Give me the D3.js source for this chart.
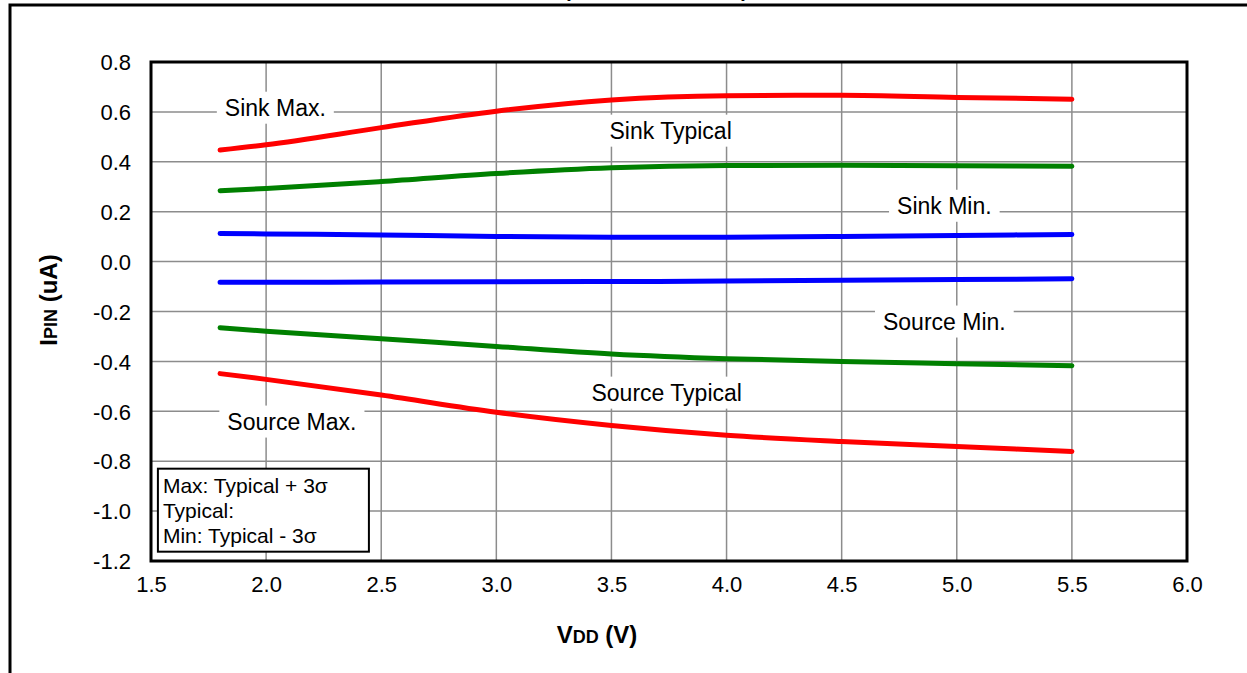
<!DOCTYPE html>
<html>
<head>
<meta charset="utf-8">
<script src="https://cdn.jsdelivr.net/npm/d3@7"></script>
<style>
  body { margin: 0; background: #fff; }
  svg { display: block; font-family: Arial, "Liberation Sans", sans-serif; }
</style>
</head>
<body>
<div id="chart"></div>
<script>
// x values (VDD, volts)
const vdd = [1.8, 2.0, 2.5, 3.0, 3.5, 4.0, 4.5, 5.0, 5.5];

// series values (IPIN, uA)
const sinkMax       = [0.447, 0.468, 0.537, 0.603, 0.648, 0.665, 0.667, 0.658, 0.651];
const sinkTypical   = [0.284, 0.293, 0.321, 0.353, 0.376, 0.385, 0.386, 0.384, 0.382];
const sinkMin       = [0.113, 0.111, 0.107, 0.101, 0.098, 0.098, 0.101, 0.105, 0.109];
const sourceMin     = [-0.083, -0.083, -0.082, -0.081, -0.080, -0.078, -0.075, -0.072, -0.069];
const sourceTypical = [-0.265, -0.279, -0.309, -0.340, -0.370, -0.389, -0.400, -0.409, -0.417];
const sourceMax     = [-0.449, -0.472, -0.535, -0.604, -0.657, -0.696, -0.721, -0.741, -0.761];

const seriesNames  = ["Sink Max.", "Sink Typical", "Sink Min.", "Source Min.", "Source Typical", "Source Max."];
const seriesValues = [sinkMax, sinkTypical, sinkMin, sourceMin, sourceTypical, sourceMax];
const seriesColors = ["#ff0000", "#008000", "#0000ff", "#0000ff", "#008000", "#ff0000"];

// where the in-plot labels sit, in data units
const labelX = [2.04, 3.757, 4.946, 4.946, 3.74, 2.112];
const labelY = [0.617, 0.525, 0.224, -0.240, -0.525, -0.641];

const xTicks = [1.5, 2.0, 2.5, 3.0, 3.5, 4.0, 4.5, 5.0, 5.5, 6.0];
const yTicks = [0.8, 0.6, 0.4, 0.2, 0.0, -0.2, -0.4, -0.6, -0.8, -1.0, -1.2];

const legendLines = ["Max: Typical + 3\u03c3", "Typical:", "Min: Typical - 3\u03c3"];

const W = 1247, H = 673;
const margin = { top: 62, right: 60, bottom: 112, left: 151 };
const width = 1187 - margin.left,
      height = 561 - margin.top;

const svg = d3.select("#chart").append("svg")
    .attr("width", W)
    .attr("height", H);

// outer frame (only top and left edges are visible)
svg.append("path")
    .attr("d", "M10," + H + " V5 H" + W)
    .attr("fill", "none")
    .attr("stroke", "black")
    .attr("stroke-width", 3);

// clipped title, only the bottom of the parentheses shows
svg.append("text")
    .attr("x", 656)
    .attr("y", -3)
    .attr("text-anchor", "middle")
    .attr("textLength", 184)
    .style("font-size", "20px")
    .style("font-weight", "bold")
    .text("(TA = +25\u00b0C)");

const g = svg.append("g")
    .attr("transform", "translate(" + margin.left + "," + margin.top + ")");

const x = d3.scaleLinear().domain([1.5, 6.0]).range([0, width]);
const y = d3.scaleLinear().domain([-1.2, 0.8]).range([height, 0]);

// grid
g.append("g")
    .selectAll("line.gx")
    .data(xTicks.slice(1, -1))
    .enter().append("line")
    .attr("x1", d => x(d)).attr("x2", d => x(d))
    .attr("y1", 0).attr("y2", height)
    .attr("stroke", "#8c8c8c")
    .attr("stroke-width", 1.5);

g.append("g")
    .selectAll("line.gy")
    .data(yTicks.slice(1, -1))
    .enter().append("line")
    .attr("x1", 0).attr("x2", width)
    .attr("y1", d => y(d)).attr("y2", d => y(d))
    .attr("stroke", "#8c8c8c")
    .attr("stroke-width", 1.5);

// axes (labels only), plain hyphen for negatives
const fmt = d => d3.format(".1f")(d).replace("\u2212", "-");
const xAxis = g.append("g")
    .attr("transform", "translate(0," + height + ")")
    .call(d3.axisBottom(x).tickValues(xTicks).tickFormat(fmt).tickSize(0).tickPadding(15));
const yAxis = g.append("g")
    .call(d3.axisLeft(y).tickValues(yTicks).tickFormat(fmt).tickSize(0).tickPadding(20));
[xAxis, yAxis].forEach(a => {
    a.select(".domain").remove();
    a.selectAll("text")
        .style("font-size", "22px")
        .style("font-family", "Arial, 'Liberation Sans', sans-serif")
        .attr("fill", "#000");
});
yAxis.selectAll("text").attr("dy", "0.35em");

// lines
const line = d3.line()
    .x((d, i) => x(vdd[i]))
    .y(d => y(d))
    .curve(d3.curveMonotoneX);

g.append("g")
    .selectAll("path")
    .data(seriesValues)
    .enter().append("path")
    .attr("d", line)
    .attr("fill", "none")
    .attr("stroke", (d, i) => seriesColors[i])
    .attr("stroke-width", 5)
    .attr("stroke-linecap", "round");

// series labels on white boxes
const labels = g.append("g")
    .selectAll("g")
    .data(seriesNames)
    .enter().append("g")
    .attr("transform", (d, i) => "translate(" + x(labelX[i]) + "," + y(labelY[i]) + ")");

labels.append("text")
    .attr("text-anchor", "middle")
    .attr("dy", "0.35em")
    .style("font-size", "23px")
    .text(d => d);

labels.each(function () {
    const b = d3.select(this).select("text").node().getBBox();
    d3.select(this).insert("rect", "text")
        .attr("x", b.x - 8).attr("y", b.y - 3)
        .attr("width", b.width + 16).attr("height", b.height + 6)
        .attr("fill", "white");
});

// plot border
g.append("rect")
    .attr("width", width)
    .attr("height", height)
    .attr("fill", "none")
    .attr("stroke", "black")
    .attr("stroke-width", 3);

// note box
const legend = g.append("g")
    .attr("transform", "translate(" + x(1.53) + "," + y(-0.83) + ")");
legend.append("rect")
    .attr("width", 211)
    .attr("height", 83)
    .attr("fill", "white")
    .attr("stroke", "black")
    .attr("stroke-width", 2);
legend.selectAll("text")
    .data(legendLines)
    .enter().append("text")
    .attr("x", 5)
    .attr("y", (d, i) => 24 + i * 25)
    .style("font-size", "21px")
    .text(d => d);

// axis titles
const xt = svg.append("text")
    .attr("x", 597)
    .attr("y", 643)
    .attr("text-anchor", "middle")
    .style("font-weight", "bold")
    .style("font-size", "24px");
xt.append("tspan").text("V");
xt.append("tspan").style("font-size", "18px").text("DD");
xt.append("tspan").text(" (V)");

const yt = svg.append("text")
    .attr("transform", "translate(57,300) rotate(-90)")
    .attr("text-anchor", "middle")
    .style("font-weight", "bold")
    .style("font-size", "24px");
yt.append("tspan").text("I");
yt.append("tspan").style("font-size", "18px").text("PIN");
yt.append("tspan").text(" (uA)");
</script>
</body>
</html>
